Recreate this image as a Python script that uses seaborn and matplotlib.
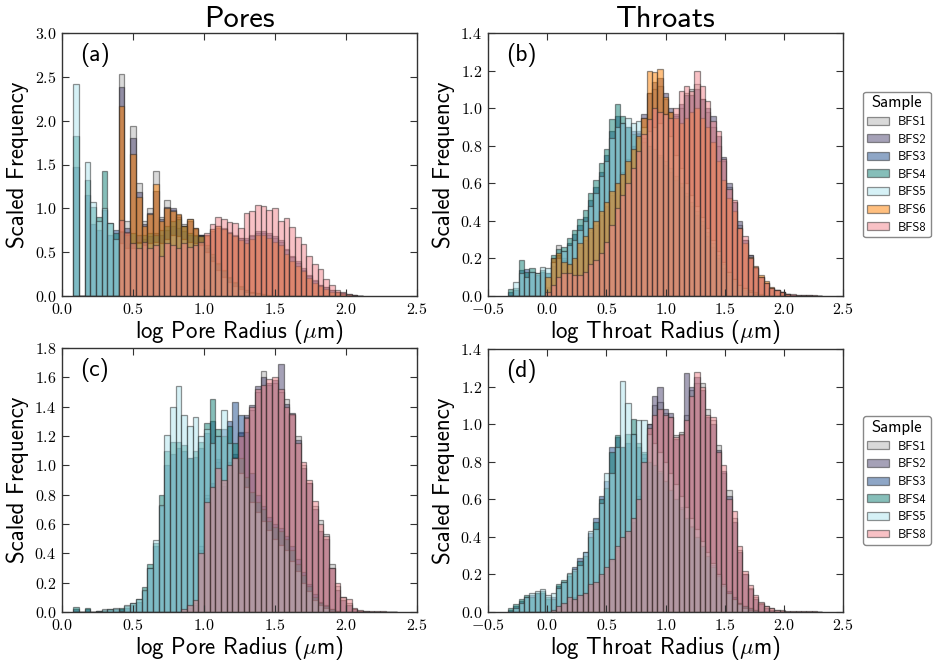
import numpy as np
import pandas as pd
import matplotlib
matplotlib.use("Agg")
import matplotlib.pyplot as plt
import seaborn as sns
from matplotlib.ticker import FuncFormatter, MultipleLocator
from matplotlib.font_manager import FontProperties

# ---------------- data ----------------
samples_pores_top = ["BFS1", "BFS2", "BFS3", "BFS4", "BFS5", "BFS6", "BFS8"]
samples_bottom = ["BFS1", "BFS2", "BFS3", "BFS4", "BFS5", "BFS8"]

# bin edges (log radius)
pore_edges = np.round(0.08 + 0.04 * np.arange(52), 4)       # panel (a): 51 bins
pore_edges_c = np.round(0.08 + 0.04 * np.arange(58), 4)     # panel (c): 57 bins
throat_edges = np.round(-0.33 + 0.045 * np.arange(60), 4)   # panels (b),(d): 59 bins

# (a) pores, scaled frequency per bin
pa_BFS1 = [0, 0, 0, 0, 0, 0, 0, 0,
           2.53, 0.85, 1.94, 1.29, 0.85, 1.0, 1.43, 0.9, 1.09, 0.98,
           0.9, 0.82, 0.88, 0.76, 0.7, 0.7, 0.76, 0.8, 0.78, 0.73,
           0.7, 0.66, 0.64, 0.68, 0.72, 0.72, 0.7, 0.66, 0.62, 0.52,
           0.44, 0.38, 0.3, 0.23, 0.17, 0.13, 0.1, 0.07, 0.05, 0.03,
           0.02, 0.01, 0.005]
pa_BFS2 = [0, 0, 0, 0, 0, 0, 0, 0,
           2.38, 0.78, 1.80, 1.19, 0.82, 0.95, 1.20, 0.88, 1.02, 1.0,
           0.92, 0.8, 0.86, 0.77, 0.7, 0.68, 0.74, 0.78, 0.76, 0.72,
           0.68, 0.66, 0.66, 0.7, 0.74, 0.74, 0.72, 0.68, 0.64, 0.54,
           0.46, 0.4, 0.32, 0.24, 0.18, 0.13, 0.1, 0.07, 0.05, 0.03,
           0.015, 0.01, 0]
pa_BFS3 = [1.47, 0, 1.15, 0.82, 0.75, 0.98, 0.7, 0.75,
           0.74, 0.72, 0.6, 0.7, 0.65, 0.68, 0.72, 0.7, 0.75, 0.8, 0.78, 0.74, 0.7, 0.68, 0.7,
           0.55, 0.45, 0.36, 0.28, 0.2, 0.15, 0.1, 0.07, 0.04, 0.03, 0.02, 0.01, 0,
           0, 0, 0, 0, 0, 0, 0, 0, 0, 0, 0, 0, 0, 0, 0]
pa_BFS4 = [1.82, 0, 1.32, 1.02, 0.9, 1.43, 0.83, 0.72,
           0.73, 0.7, 0.72, 0.62, 0.7, 0.72, 0.7, 0.75, 0.8, 0.86, 0.88, 0.8, 0.72, 0.7, 0.68,
           0.58, 0.48, 0.38, 0.3, 0.22, 0.16, 0.11, 0.07, 0.05, 0.03, 0.02, 0.01, 0,
           0, 0, 0, 0, 0, 0, 0, 0, 0, 0, 0, 0, 0, 0, 0]
pa_BFS5 = [2.42, 0, 1.53, 1.07, 0.85, 1.0, 0.83, 0.65,
           0.6, 0.55, 0.55, 0.6, 0.58, 0.6, 0.62, 0.6, 0.65, 0.7, 0.68, 0.65, 0.62, 0.6, 0.58,
           0.5, 0.4, 0.3, 0.22, 0.16, 0.11, 0.08, 0.05, 0.03, 0.02, 0.01, 0.005, 0,
           0, 0, 0, 0, 0, 0, 0, 0, 0, 0, 0, 0, 0, 0, 0]
pa_BFS6 = [0, 0, 0, 0, 0, 0, 0, 0,
           2.17, 0.72, 1.62, 1.13, 0.8, 0.94, 1.28, 0.85, 1.0, 0.97,
           0.94, 0.8, 0.88, 0.77, 0.68, 0.7, 0.76, 0.8, 0.76, 0.72,
           0.68, 0.64, 0.6, 0.65, 0.7, 0.7, 0.66, 0.62, 0.58, 0.48,
           0.4, 0.34, 0.28, 0.2, 0.15, 0.11, 0.08, 0.05, 0.04, 0.02,
           0.01, 0.005, 0]
pa_BFS8 = [0, 0, 0, 0, 0, 0, 0, 0,
           0.87, 0.73, 0.6, 0.55, 0.62, 0.55, 0.58, 0.46, 0.6, 0.58,
           0.55, 0.6, 0.56, 0.58, 0.62, 0.72, 0.82, 0.9, 0.88, 0.84,
           0.83, 0.77, 0.95, 0.97, 1.04, 1.03, 0.98, 1.0, 0.86, 0.89,
           0.79, 0.67, 0.59, 0.46, 0.37, 0.31, 0.19, 0.13, 0.07, 0.04,
           0.02, 0.01, 0.005]

# (b) throats
tb_BFS1 = [0, 0, 0, 0, 0, 0, 0,
           0.05, 0.18, 0.27, 0.2, 0.17, 0.2, 0.27, 0.3, 0.35, 0.4,
           0.44, 0.5, 0.55, 0.6, 0.66, 0.73, 0.8, 0.87, 0.95, 1.08,
           1.1, 1.12, 1.05, 0.98, 0.96, 1.0, 1.08, 1.1, 1.13, 1.05,
           0.98, 0.9, 0.8, 0.72, 0.58, 0.5, 0.38, 0.3, 0.22, 0.15,
           0.1, 0.07, 0.045, 0.03, 0.02, 0.01, 0.006, 0.004, 0.003, 0.003,
           0.002, 0]
tb_BFS2 = [0, 0, 0, 0, 0, 0, 0,
           0.04, 0.16, 0.22, 0.19, 0.17, 0.19, 0.26, 0.3, 0.34, 0.38,
           0.43, 0.48, 0.54, 0.6, 0.65, 0.72, 0.8, 0.88, 0.97, 1.08,
           1.14, 1.16, 1.08, 1.0, 0.97, 1.02, 1.07, 1.07, 1.1, 1.05,
           1.0, 0.96, 0.85, 0.74, 0.6, 0.5, 0.4, 0.3, 0.22, 0.15,
           0.1, 0.07, 0.04, 0.03, 0.02, 0.01, 0.005, 0, 0, 0,
           0, 0]
tb_BFS3 = [0.02, 0.03, 0.14, 0.145, 0.13, 0.11, 0.13, 0.12, 0.2, 0.22,
           0.24, 0.28, 0.33, 0.38, 0.42, 0.51, 0.58, 0.66, 0.75, 0.88,
           0.96, 0.92, 0.9, 0.88, 0.86, 0.84, 0.8, 0.78, 0.74, 0.7,
           0.66, 0.62, 0.58, 0.53, 0.48, 0.43, 0.38, 0.32, 0.26, 0.2,
           0.15, 0.11, 0.08, 0.05, 0.03, 0.02, 0.01, 0, 0, 0,
           0, 0, 0, 0, 0, 0, 0, 0, 0]
tb_BFS4 = [0.035, 0.04, 0.19, 0.13, 0.15, 0.12, 0.14, 0.12, 0.22, 0.25,
           0.26, 0.31, 0.35, 0.41, 0.46, 0.55, 0.62, 0.71, 0.78, 0.94,
           1.02, 0.96, 0.9, 0.86, 0.84, 0.82, 0.8, 0.78, 0.75, 0.72,
           0.68, 0.64, 0.6, 0.55, 0.5, 0.45, 0.4, 0.34, 0.28, 0.22,
           0.17, 0.13, 0.09, 0.06, 0.04, 0.03, 0.02, 0.01, 0, 0,
           0, 0, 0, 0, 0, 0, 0, 0, 0]
tb_BFS5 = [0, 0.075, 0.12, 0.1, 0.13, 0.12, 0.155, 0.15, 0.18, 0.2,
           0.24, 0.27, 0.3, 0.35, 0.4, 0.48, 0.55, 0.64, 0.72, 0.84,
           0.9, 0.92, 0.95, 0.92, 0.93, 0.9, 0.88, 0.9, 0.92, 0.97,
           0.85, 0.75, 0.68, 0.6, 0.54, 0.48, 0.42, 0.36, 0.3, 0.24,
           0.18, 0.13, 0.09, 0.06, 0.04, 0.02, 0.01, 0, 0, 0,
           0, 0, 0, 0, 0, 0, 0, 0, 0]
tb_BFS6 = [0, 0, 0, 0, 0, 0, 0,
           0.1, 0.2, 0.23, 0.18, 0.17, 0.2, 0.28, 0.32, 0.36, 0.4,
           0.45, 0.5, 0.56, 0.6, 0.65, 0.72, 0.78, 0.85, 0.95, 1.2,
           1.19, 1.21, 1.06, 0.98, 0.95, 0.92, 0.95, 0.98, 1.0, 0.95,
           0.9, 0.82, 0.72, 0.62, 0.52, 0.45, 0.36, 0.28, 0.21, 0.16,
           0.11, 0.08, 0.05, 0.03, 0.02, 0.01, 0, 0, 0, 0,
           0, 0]
tb_BFS8 = [0, 0, 0, 0, 0, 0, 0,
           0.02, 0.06, 0.1, 0.12, 0.12, 0.11, 0.11, 0.13, 0.17, 0.19,
           0.23, 0.29, 0.38, 0.47, 0.54, 0.6, 0.68, 0.77, 0.86, 0.94,
           1.0, 0.98, 0.97, 0.95, 1.0, 1.09, 1.12, 1.09, 1.2, 1.12,
           1.04, 0.93, 0.88, 0.73, 0.57, 0.51, 0.36, 0.32, 0.2, 0.155,
           0.1, 0.07, 0.045, 0.03, 0.02, 0.012, 0.008, 0.006, 0.005, 0.004,
           0.003, 0.002]

# (c) pores, second set
pc_BFS1 = [0] * 19 + [0.01, 0.04, 0.06, 0.45, 0.8, 0.86, 1.02, 0.88, 1.0, 1.06,
                      1.22, 1.33, 1.38, 1.5, 1.64, 1.55, 1.56, 1.5, 1.45, 1.34,
                      1.2, 1.0, 0.88, 0.72, 0.63, 0.53, 0.33, 0.18, 0.1, 0.06,
                      0.02, 0.01, 0.005, 0, 0, 0, 0, 0]
pc_BFS2 = [0] * 19 + [0.01, 0.03, 0.05, 0.42, 0.78, 0.88, 1.04, 0.86, 1.02, 1.08,
                      1.23, 1.34, 1.41, 1.54, 1.6, 1.56, 1.58, 1.69, 1.42, 1.36,
                      1.17, 0.98, 0.88, 0.7, 0.55, 0.5, 0.3, 0.15, 0.08, 0.05,
                      0.02, 0.01, 0, 0, 0, 0, 0, 0]
pc_BFS3 = [0.02, 0, 0.02, 0, 0.01, 0.01, 0.015, 0.02, 0.02, 0.03,
           0.05, 0.07, 0.14, 0.3, 0.45, 0.72, 1.0, 1.08, 1.12, 1.1,
           1.05, 1.06, 1.12, 1.22, 1.3, 1.2, 1.25, 1.3, 1.43, 1.34,
           1.23, 0.95, 0.8, 0.72, 0.65, 0.6, 0.57, 0.52, 0.45, 0.36,
           0.27, 0.19, 0.12, 0.07, 0.05, 0.02, 0.01, 0, 0, 0,
           0, 0, 0, 0, 0, 0, 0]
pc_BFS4 = [0.035, 0, 0.025, 0, 0.01, 0.015, 0.02, 0.02, 0.025, 0.04,
           0.06, 0.09, 0.17, 0.33, 0.47, 0.8, 1.1, 1.16, 1.16, 1.14,
           1.05, 1.1, 1.16, 1.29, 1.45, 1.25, 1.2, 1.27, 1.15, 1.05,
           0.92, 0.82, 0.75, 0.7, 0.62, 0.58, 0.55, 0.5, 0.42, 0.33,
           0.25, 0.18, 0.1, 0.06, 0.04, 0.02, 0.01, 0, 0, 0,
           0, 0, 0, 0, 0, 0, 0]
pc_BFS5 = [0, 0, 0, 0, 0.01, 0.02, 0.02, 0.03, 0.01, 0.045,
           0.06, 0.09, 0.15, 0.3, 0.49, 0.73, 1.21, 1.4, 1.54, 1.34,
           1.27, 1.33, 1.2, 1.25, 1.15, 1.2, 1.38, 1.15, 1.05, 0.95,
           0.85, 0.75, 0.68, 0.62, 0.56, 0.5, 0.46, 0.42, 0.35, 0.28,
           0.2, 0.14, 0.08, 0.05, 0.03, 0.01, 0, 0, 0, 0,
           0, 0, 0, 0, 0, 0, 0]
pc_BFS8 = [0] * 19 + [0.02, 0.05, 0.08, 0.4, 0.75, 0.85, 0.98, 0.9, 1.0, 1.05,
                      1.2, 1.32, 1.4, 1.52, 1.55, 1.59, 1.6, 1.52, 1.4, 1.35,
                      1.15, 1.02, 0.9, 0.76, 0.6, 0.52, 0.3, 0.2, 0.1, 0.09,
                      0.03, 0.015, 0.01, 0.005, 0.005, 0.004, 0.003, 0]

# (d) throats, second set
td_BFS1 = [0] * 8 + [0.01, 0.03, 0.05, 0.07, 0.07, 0.09, 0.1, 0.14, 0.16, 0.19,
                     0.23, 0.28, 0.34, 0.4, 0.43, 0.5, 0.62, 0.82, 1.0, 1.1,
                     1.12, 1.06, 1.04, 0.94, 0.96, 1.05, 1.18, 1.22, 1.22, 1.08,
                     1.02, 0.89, 0.74, 0.65, 0.5, 0.33, 0.2, 0.13, 0.08, 0.05,
                     0.03, 0.02, 0.01, 0.005, 0, 0, 0, 0, 0, 0, 0]
td_BFS2 = [0] * 8 + [0.01, 0.02, 0.04, 0.06, 0.08, 0.08, 0.1, 0.14, 0.15, 0.19,
                     0.23, 0.27, 0.33, 0.39, 0.42, 0.48, 0.6, 0.8, 1.0, 1.15,
                     1.2, 1.08, 1.06, 0.92, 0.94, 1.27, 1.2, 1.25, 1.18, 1.04,
                     1.0, 0.86, 0.75, 0.62, 0.48, 0.32, 0.2, 0.12, 0.07, 0.04,
                     0.02, 0.01, 0, 0, 0, 0, 0, 0, 0, 0, 0]
td_BFS3 = [0.01, 0.03, 0.06, 0.08, 0.09, 0.1, 0.1, 0.07, 0.08, 0.14,
           0.16, 0.19, 0.24, 0.29, 0.32, 0.42, 0.5, 0.62, 0.7, 0.88,
           0.93, 0.88, 0.9, 0.95, 0.88, 0.84, 0.8, 0.78, 0.74, 0.7,
           0.65, 0.6, 0.56, 0.5, 0.46, 0.4, 0.35, 0.3, 0.25, 0.2,
           0.15, 0.11, 0.08, 0.05, 0.03, 0.02, 0.01, 0, 0, 0,
           0, 0, 0, 0, 0, 0, 0, 0, 0]
td_BFS4 = [0.02, 0.04, 0.07, 0.09, 0.08, 0.1, 0.11, 0.08, 0.07, 0.15,
           0.17, 0.2, 0.22, 0.27, 0.3, 0.4, 0.48, 0.6, 0.66, 0.85,
           0.94, 0.88, 0.95, 1.03, 0.9, 0.85, 0.8, 0.78, 0.75, 0.7,
           0.65, 0.6, 0.55, 0.5, 0.45, 0.4, 0.35, 0.3, 0.24, 0.19,
           0.14, 0.1, 0.07, 0.05, 0.03, 0.02, 0.01, 0, 0, 0,
           0, 0, 0, 0, 0, 0, 0, 0, 0]
td_BFS5 = [0, 0.02, 0.05, 0.08, 0.1, 0.11, 0.12, 0.09, 0.1, 0.13,
           0.16, 0.21, 0.23, 0.25, 0.32, 0.43, 0.44, 0.58, 0.74, 0.74,
           0.88, 1.23, 1.11, 0.95, 1.02, 1.02, 0.95, 0.9, 0.85, 0.8,
           0.74, 0.68, 0.62, 0.56, 0.5, 0.44, 0.38, 0.32, 0.26, 0.2,
           0.15, 0.1, 0.07, 0.04, 0.02, 0.01, 0, 0, 0, 0,
           0, 0, 0, 0, 0, 0, 0, 0, 0]
td_BFS8 = [0] * 8 + [0.01, 0.03, 0.05, 0.08, 0.07, 0.09, 0.1, 0.15, 0.16, 0.2,
                     0.24, 0.28, 0.35, 0.4, 0.43, 0.5, 0.6, 0.8, 0.98, 1.05,
                     1.08, 1.05, 1.04, 0.93, 0.95, 1.02, 1.15, 1.28, 1.2, 1.05,
                     1.04, 0.85, 0.78, 0.6, 0.54, 0.35, 0.22, 0.145, 0.09, 0.055,
                     0.03, 0.02, 0.012, 0.008, 0.006, 0.005, 0.004, 0.004, 0.003, 0.003, 0]

panel_a = {"BFS1": pa_BFS1, "BFS2": pa_BFS2, "BFS3": pa_BFS3, "BFS4": pa_BFS4,
           "BFS5": pa_BFS5, "BFS6": pa_BFS6, "BFS8": pa_BFS8}
panel_b = {"BFS1": tb_BFS1, "BFS2": tb_BFS2, "BFS3": tb_BFS3, "BFS4": tb_BFS4,
           "BFS5": tb_BFS5, "BFS6": tb_BFS6, "BFS8": tb_BFS8}
panel_c = {"BFS1": pc_BFS1, "BFS2": pc_BFS2, "BFS3": pc_BFS3, "BFS4": pc_BFS4,
           "BFS5": pc_BFS5, "BFS8": pc_BFS8}
panel_d = {"BFS1": td_BFS1, "BFS2": td_BFS2, "BFS3": td_BFS3, "BFS4": td_BFS4,
           "BFS5": td_BFS5, "BFS8": td_BFS8}

colors = {"BFS1": "#b4b4b4", "BFS2": "#4d4470", "BFS3": "#1f4f8f", "BFS4": "#0f7f74",
          "BFS5": "#aee4ee", "BFS6": "#ff8000", "BFS8": "#f2858c"}

# ---------------- style ----------------
plt.rcParams["mathtext.fontset"] = "cm"
plt.rcParams["axes.unicode_minus"] = True
SANS = "cmss10"
EDGE = (0.15, 0.15, 0.15, 0.5)

fig = plt.figure(figsize=(9.33, 6.63), dpi=100)
W, H = 933, 663


def rect(l, t, r, b):
    return [l / W, 1 - b / H, (r - l) / W, (b - t) / H]


axes_spec = [
    ("a", rect(62, 33, 417, 296), panel_a, pore_edges, samples_pores_top, (0, 2.5), (0, 3.0), 0.5,
     "log Pore Radius ($\\mu$m)", "Pores", False),
    ("b", rect(488, 33, 843, 296), panel_b, throat_edges, samples_pores_top, (-0.5, 2.5), (0, 1.4), 0.2,
     "log Throat Radius ($\\mu$m)", "Throats", True),
    ("c", rect(62, 348, 417, 612), panel_c, pore_edges_c, samples_bottom, (0, 2.5), (0, 1.8), 0.2,
     "log Pore Radius ($\\mu$m)", None, False),
    ("d", rect(488, 349, 843, 612), panel_d, throat_edges, samples_bottom, (-0.5, 2.5), (0, 1.4), 0.2,
     "log Throat Radius ($\\mu$m)", None, True),
]

fmt = FuncFormatter(lambda v, p: "$%.1f$" % v)

for letter, r, data, edges, names, xlim, ylim, ystep, xlabel, title, legend in axes_spec:
    ax = fig.add_axes(r)
    centers = (edges[:-1] + edges[1:]) / 2
    bin_list = [float(e) for e in edges]
    for name in names:
        df = pd.DataFrame({"radius": centers, "freq": np.array(data[name], dtype=float)})
        sns.histplot(data=df, x="radius", weights="freq", bins=bin_list,
                     color=colors[name], alpha=0.5, edgecolor=EDGE, linewidth=0.9,
                     label=name, ax=ax)
    ax.set_xlim(*xlim)
    ax.set_ylim(*ylim)
    ax.xaxis.set_major_locator(MultipleLocator(0.5))
    ax.yaxis.set_major_locator(MultipleLocator(ystep))
    ax.xaxis.set_major_formatter(fmt)
    ax.yaxis.set_major_formatter(fmt)
    ax.tick_params(direction="in", top=True, right=True, length=5, width=0.8,
                   labelsize=11.5, pad=4, color="#333333")
    for s in ax.spines.values():
        s.set_color("#333333")
        s.set_linewidth(1.0)
    ax.set_xlabel(xlabel, fontfamily=SANS, fontsize=16.5, labelpad=1)
    ax.set_ylabel("Scaled Frequency", fontfamily=SANS, fontsize=16.5, labelpad=4)
    if title:
        ax.set_title(title, fontfamily=SANS, fontsize=22, pad=4)
    ax.text(0.05, 0.915, "(%s)" % letter, transform=ax.transAxes, fontfamily=SANS,
            fontsize=17, va="center", ha="left")
    if legend:
        leg = ax.legend(title="Sample", loc="center left", bbox_to_anchor=(1.057, 0.5),
                        borderaxespad=0, prop=FontProperties(family=SANS, size=9),
                        title_fontproperties=FontProperties(family=SANS, size=12),
                        handlelength=1.8, handleheight=0.6, labelspacing=0.45,
                        handletextpad=0.7, borderpad=0.3,
                        fancybox=True, edgecolor="#888888", framealpha=1)
        leg.get_frame().set_linewidth(1.0)

fig.savefig("out.png", dpi=100)
